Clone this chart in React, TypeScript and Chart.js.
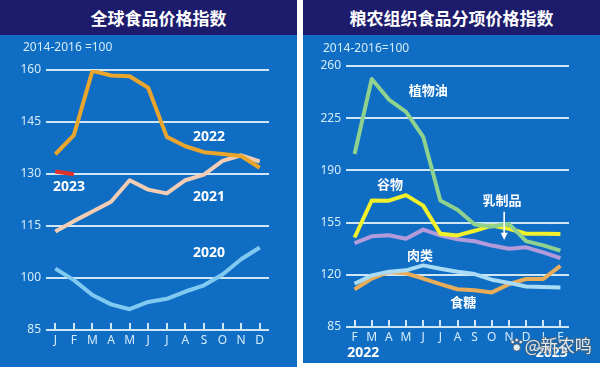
import React, { useEffect, useRef } from 'react';
import { Chart, registerables } from 'chart.js';

Chart.register(...registerables);

// ---------- data ----------
const leftMonths = ['J', 'F', 'M', 'A', 'M', 'J', 'J', 'A', 'S', 'O', 'N', 'D'];
const rightMonths = ['F', 'M', 'A', 'M', 'J', 'J', 'A', 'S', 'O', 'N', 'D', 'J', 'F'];
const leftTickValues = [85, 100, 115, 130, 145, 160];
const rightTickValues = [85, 120, 155, 190, 225, 260];

const ffpi2020 = [102.7, 99.4, 95.1, 92.4, 91.0, 93.1, 94.0, 96.1, 97.9, 101.0, 105.4, 108.8];
const ffpi2021 = [113.4, 116.4, 119.2, 122.0, 128.2, 125.5, 124.4, 128.2, 129.8, 133.8, 135.4, 133.6];
const ffpi2022 = [135.7, 141.2, 159.8, 158.4, 158.2, 154.9, 140.7, 138.0, 136.3, 135.8, 135.2, 131.8];
const ffpi2023 = [130.7, 129.9];

const vegOil = [201.0, 251.3, 237.5, 229.3, 212.5, 169.8, 163.6, 153.7, 152.4, 154.2, 142.6, 139.7, 136.2];
const cereals = [145.0, 169.8, 169.7, 173.4, 166.4, 147.5, 146.4, 149.5, 153.0, 150.9, 147.5, 147.5, 147.3];
const dairy = [141.3, 145.8, 146.5, 144.2, 150.3, 146.5, 143.8, 142.5, 139.6, 137.5, 138.4, 135.0, 131.2];
const meat = [114.0, 119.6, 122.1, 123.0, 126.3, 124.0, 122.0, 120.5, 116.7, 114.6, 112.2, 111.8, 111.5];
const sugar = [110.2, 117.5, 121.9, 121.0, 117.5, 113.7, 110.3, 109.7, 108.2, 113.7, 117.2, 117.2, 126.0];

// ---------- styles ----------
const FONT = "'Noto Sans', 'Noto Sans CJK SC', sans-serif";
const CJK = "'Noto Sans CJK SC', 'Noto Sans', sans-serif";
const NAVY = '#1d1c6c';
const BLUE = '#0f6ec4';
const GRID = '#cfe6f7';
const TEXT = '#d6ebf9';

type Lbl = { text: string; x: number; y: number };

const leftLabels: Lbl[] = [
  { text: '2022', x: 8.27, y: 140.7 },
  { text: '2023', x: 0.74, y: 126.3 },
  { text: '2021', x: 8.27, y: 123.4 },
  { text: '2020', x: 8.27, y: 107.2 },
];
const rightLabels: Lbl[] = [
  { text: '植物油', x: 4.3, y: 243.8 },
  { text: '谷物', x: 2.06, y: 181 },
  { text: '乳制品', x: 8.6, y: 169.8 },
  { text: '肉类', x: 3.81, y: 133 },
  { text: '食糖', x: 6.34, y: 101.7 },
];

function makePlugin(opts: {
  labels: Lbl[];
  subtitle: string;
  subX: number;
  subY: number;
  arrow?: { x: number; y1: number; y2: number };
  bottomYears?: { text: string; x: number }[];
  watermark?: boolean;
}) {
  return {
    id: 'decor',
    afterDraw(chart: any) {
      const ctx = chart.ctx as CanvasRenderingContext2D;
      const xs = chart.scales.x;
      const ys = chart.scales.y;
      ctx.save();
      // subtitle
      ctx.fillStyle = TEXT;
      ctx.font = `12px ${FONT}`;
      ctx.textAlign = 'left';
      ctx.textBaseline = 'middle';
      ctx.fillText(opts.subtitle, opts.subX, opts.subY);
      // tick marks above the base line
      const base = ys.getPixelForValue(ys.min);
      ctx.strokeStyle = GRID;
      ctx.lineWidth = 2;
      const n = chart.data.labels.length;
      for (let i = 0; i < n; i++) {
        const px = Math.round(xs.getPixelForValue(i));
        ctx.beginPath();
        ctx.moveTo(px, base);
        ctx.lineTo(px, base - 7);
        ctx.stroke();
      }
      // series labels
      ctx.fillStyle = '#ffffff';
      ctx.textAlign = 'center';
      ctx.textBaseline = 'middle';
      for (const l of opts.labels) {
        const isCjk = /[^\x00-\x7f]/.test(l.text);
        ctx.font = isCjk ? `bold 13px ${CJK}` : `bold 14px ${FONT}`;
        ctx.fillText(l.text, xs.getPixelForValue(l.x), ys.getPixelForValue(l.y));
      }
      // arrow
      if (opts.arrow) {
        const ax = xs.getPixelForValue(opts.arrow.x);
        const ay1 = ys.getPixelForValue(opts.arrow.y1);
        const ay2 = ys.getPixelForValue(opts.arrow.y2);
        ctx.strokeStyle = '#ffffff';
        ctx.fillStyle = '#ffffff';
        ctx.lineWidth = 1.6;
        ctx.beginPath();
        ctx.moveTo(ax, ay1);
        ctx.lineTo(ax, ay2 - 5);
        ctx.stroke();
        ctx.beginPath();
        ctx.moveTo(ax - 3.5, ay2 - 7);
        ctx.lineTo(ax + 3.5, ay2 - 7);
        ctx.lineTo(ax, ay2);
        ctx.closePath();
        ctx.fill();
      }
      // bottom years
      if (opts.bottomYears) {
        ctx.fillStyle = '#ffffff';
        ctx.font = `bold 14px ${FONT}`;
        for (const b of opts.bottomYears) {
          ctx.fillText(b.text, xs.getPixelForValue(b.x), base + 26);
        }
      }
      // watermark
      if (opts.watermark) {
        const wx = xs.getPixelForValue(10.15);
        const wy = base + 19;
        // paw icon
        ctx.fillStyle = 'rgba(245,245,245,0.92)';
        ctx.strokeStyle = 'rgba(80,80,80,0.7)';
        ctx.lineWidth = 1;
        const dots = [
          [-4, -4, 1.8],
          [0, -6, 1.8],
          [4, -4, 1.8],
          [0, 1.5, 3.6],
        ];
        for (const [dx, dy, r] of dots) {
          ctx.beginPath();
          ctx.arc(wx - 12 + dx, wy + dy, r, 0, Math.PI * 2);
          ctx.fill();
          ctx.stroke();
        }
        ctx.font = `17px ${CJK}`;
        ctx.textAlign = 'left';
        ctx.lineWidth = 2;
        ctx.strokeStyle = 'rgba(90,90,90,0.55)';
        ctx.strokeText('@新农鸣', wx - 4, wy);
        ctx.fillStyle = 'rgba(245,245,245,0.92)';
        ctx.fillText('@新农鸣', wx - 4, wy);
      }
      ctx.restore();
    },
  };
}

function line(data: (number | null)[], color: string) {
  return {
    data,
    borderColor: color,
    backgroundColor: color,
    borderWidth: 4,
    pointRadius: 0,
    tension: 0,
    borderJoinStyle: 'round' as const,
    borderCapStyle: 'butt' as const,
    fill: false,
  };
}

function buildOptions(cfg: {
  min: number;
  max: number;
  step: number;
  yWidth: number;
  xHeight: number;
  padTop: number;
  padRight: number;
}) {
  return {
    animation: false as const,
    responsive: false,
    maintainAspectRatio: false,
    layout: { padding: { top: cfg.padTop, right: cfg.padRight, left: 0, bottom: 0 } },
    plugins: { legend: { display: false }, tooltip: { enabled: false }, title: { display: false } },
    scales: {
      x: {
        type: 'category' as const,
        offset: true,
        grid: { display: false, drawTicks: false },
        border: { display: false },
        ticks: { color: TEXT, font: { size: 12, family: FONT }, padding: 3, maxRotation: 0, autoSkip: false },
        afterFit: (s: any) => {
          s.height = cfg.xHeight;
        },
      },
      y: {
        min: cfg.min,
        max: cfg.max,
        grid: { color: GRID, lineWidth: 2, drawTicks: false },
        border: { display: false },
        ticks: {
          stepSize: cfg.step,
          color: TEXT,
          font: { size: 12, family: FONT },
          padding: 5,
        },
        afterBuildTicks: (s: any) => {
          s.ticks = (cfg.min === 85 && cfg.max === 160 ? leftTickValues : rightTickValues).map((v) => ({ value: v }));
        },
        afterFit: (s: any) => {
          s.width = cfg.yWidth;
        },
      },
    },
  };
}

function LeftChart() {
  const ref = useRef<HTMLCanvasElement>(null);
  useEffect(() => {
    if (!ref.current) return;
    const chart = new Chart(ref.current, {
      type: 'line',
      data: {
        labels: leftMonths,
        datasets: [
          line(ffpi2023, '#e2332b'),
          line(ffpi2022, '#e9a52c'),
          line(ffpi2021, '#f3cdb3'),
          line(ffpi2020, '#80c9f1'),
        ],
      },
      options: buildOptions({ min: 85, max: 160, step: 15, yWidth: 46, xHeight: 37, padTop: 35, padRight: 28 }) as any,
      plugins: [makePlugin({ labels: leftLabels, subtitle: '2014-2016 =100', subX: 23, subY: 13 })],
    });
    return () => chart.destroy();
  }, []);
  return <canvas ref={ref} width={297} height={332} style={{ display: 'block' }} />;
}

function RightChart() {
  const ref = useRef<HTMLCanvasElement>(null);
  useEffect(() => {
    if (!ref.current) return;
    const chart = new Chart(ref.current, {
      type: 'line',
      data: {
        labels: rightMonths,
        datasets: [
          line(vegOil, '#8fd18e'),
          line(cereals, '#f1f12b'),
          line(dairy, '#b39bdb'),
          line(meat, '#a9dcf4'),
          line(sugar, '#e9ad5a'),
        ],
      },
      options: buildOptions({ min: 85, max: 260, step: 35, yWidth: 43, xHeight: 36, padTop: 31, padRight: 31 }) as any,
      plugins: [
        makePlugin({
          labels: rightLabels,
          subtitle: '2014-2016=100',
          subX: 20,
          subY: 14,
          arrow: { x: 8.72, y1: 162.2, y2: 143.5 },
          bottomYears: [
            { text: '2022', x: 0.5 },
            { text: '2023', x: 11.5 },
          ],
          watermark: true,
        }),
      ],
    });
    return () => chart.destroy();
  }, []);
  return <canvas ref={ref} width={297} height={328} style={{ display: 'block' }} />;
}

export default function App() {
  const titleStyle: React.CSSProperties = {
    position: 'absolute',
    top: 0,
    left: 0,
    right: 0,
    height: 35,
    background: NAVY,
    color: '#ffffff',
    fontFamily: CJK,
    fontWeight: 'bold',
    fontSize: 17,
    lineHeight: '35px',
    textAlign: 'center',
    whiteSpace: 'nowrap',
  };
  return (
    <div
      style={{
        position: 'fixed',
        left: 0,
        top: 0,
        width: 600,
        height: 367,
        background: '#ffffff',
        overflow: 'hidden',
      }}
    >
      <div style={{ position: 'absolute', left: 0, top: 0, width: 297, height: 367, background: BLUE }}>
        <div style={{ ...titleStyle, paddingLeft: 20, boxSizing: 'border-box' }}>全球食品价格指数</div>
        <div style={{ position: 'absolute', left: 0, top: 35 }}>
          <LeftChart />
        </div>
      </div>
      <div style={{ position: 'absolute', left: 303, top: 0, width: 297, height: 363, background: BLUE }}>
        <div style={titleStyle}>粮农组织食品分项价格指数</div>
        <div style={{ position: 'absolute', left: 0, top: 35 }}>
          <RightChart />
        </div>
      </div>
    </div>
  );
}
